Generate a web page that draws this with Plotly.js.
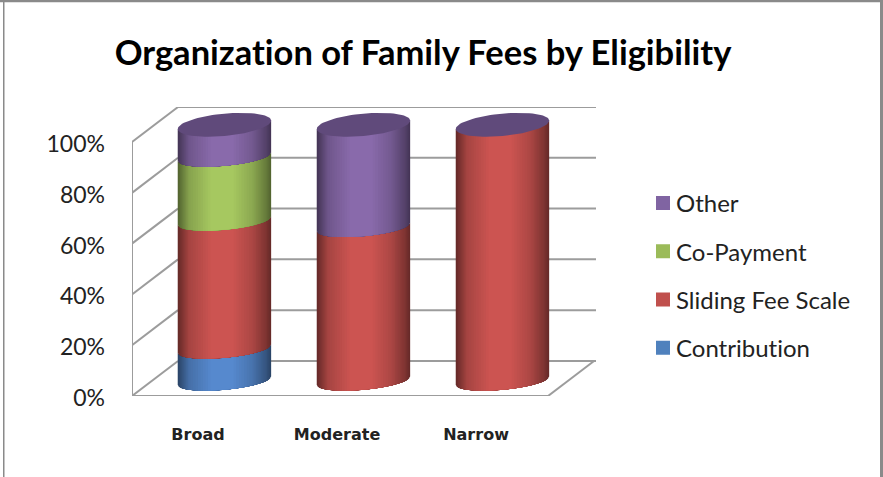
<!DOCTYPE html>
<html>
<head>
<meta charset="utf-8">
<script src="https://cdn.plot.ly/plotly-3.0.1.min.js"></script>
<style>html,body{margin:0;padding:0;background:#fff;overflow:hidden}#chart{width:883px;height:477px}#chart text{font-variant-ligatures:none;font-feature-settings:"liga" 0,"clig" 0,"dlig" 0}</style>
</head>
<body>
<div id="chart"></div>
<script>
// ---- data ----
const categories = ["Broad", "Moderate", "Narrow"];
const contribution = [12.5, 0, 0];
const slidingFeeScale = [50, 60, 100];
const coPayment = [25, 0, 0];
const other = [12.5, 40, 0];
const yTicks = [0, 20, 40, 60, 80, 100];
const yTickLabels = ["0%", "20%", "40%", "60%", "80%", "100%"];
const stackOrder = ["Contribution", "Sliding Fee Scale", "Co-Payment", "Other"];
const legendOrder = ["Other", "Co-Payment", "Sliding Fee Scale", "Contribution"];
const seriesValues = {"Contribution": contribution, "Sliding Fee Scale": slidingFeeScale, "Co-Payment": coPayment, "Other": other};
const swatchColors = {"Contribution": "#4f81bd", "Sliding Fee Scale": "#c0504d", "Co-Payment": "#9bbb59", "Other": "#8064a2"};
const bodyColors = {"Contribution": [86,137,206], "Sliding Fee Scale": [204,84,81], "Co-Payment": [166,200,96], "Other": [137,106,171]};
const capColor = "#604a7b";

// ---- projection of the 3-D box, in axis units ----
const xRange = [-0.475, 2.863], yRange = [0, 113.8];
const depthX = 0.331, depthY = 13.8;
const frontRight = 2.518;
const cylOffset = 0.19, cylRadius = 0.336;
const cylBase = 6.0, cylScale = 1.008;
const sag = 3.55, capSag = 4.4, tilt = 1.65;
const shadeLeft = [[.5,0],[.82,.12],[1,.35]], shadeRight = [[.5,1],[.62,.95],[.85,.8],[1,.6]];

function invert(stops, f){
  for(let i=0;i<stops.length-1;i++){
    const a=stops[i], b=stops[i+1];
    if(f>=a[0] && f<=b[0]) return a[1]+(b[1]-a[1])*(f-a[0])/(b[0]-a[0]);
  }
  return stops[stops.length-1][1];
}
function front(cat, level, u, s){
  const t = Math.PI + Math.acos(1-2*u);
  return [cat+cylOffset+cylRadius*Math.cos(t), cylBase+level*cylScale+s*Math.sin(t)+tilt*Math.cos(t)];
}

const traces = [];
// real stacked data as bars (also provide the legend)
legendOrder.forEach(name=>{
  const vals = seriesValues[name];
  const idx = stackOrder.indexOf(name);
  const bases = categories.map((c,i)=>{
    let s=0; for(let j=0;j<idx;j++) s+=seriesValues[stackOrder[j]][i];
    return cylBase+s*cylScale;
  });
  traces.push({type:"bar",name:name,x:categories.map((c,i)=>i+cylOffset),y:vals.map(v=>v*cylScale),base:bases,width:0.4,
    marker:{color:swatchColors[name],line:{color:swatchColors[name],width:2}},legendgroup:name,hoverinfo:"skip"});
});

// walls and gridlines
const wx=[], wy=[];
function seg(x0,y0,x1,y1){wx.push(x0,x1,null);wy.push(y0,y1,null);}
yTicks.forEach(v=>{
  seg(xRange[0],v,xRange[0]+depthX,v+depthY);
  seg(xRange[0]+depthX,v+depthY,xRange[1],v+depthY);
});
seg(xRange[0],0,xRange[0],100);
seg(xRange[0],0,frontRight,0);
seg(frontRight,0,frontRight+depthX,depthY);
traces.push({type:"scatter",mode:"lines",x:wx,y:wy,line:{color:"#9c9c9c",width:2},showlegend:false,hoverinfo:"skip",cliponaxis:false});

// shaded cylinder bodies: nested bands from dark rim to bright centre
const bands = 24;
categories.forEach((c,i)=>{
  let cum=0;
  stackOrder.forEach(name=>{
    const v=seriesValues[name][i];
    if(v>0){
      for(let k=0;k<=bands;k++){
        const f=.5+.5*k/bands;
        const uL=invert(shadeLeft,f), uR=invert(shadeRight,f);
        const xs=[],ys=[];
        const n=24;
        for(let j=0;j<=n;j++){const p=front(i,cum,uL+(uR-uL)*j/n,sag);xs.push(p[0]);ys.push(p[1]);}
        for(let j=n;j>=0;j--){const p=front(i,cum+v,uL+(uR-uL)*j/n,sag);xs.push(p[0]);ys.push(p[1]);}
        const rgb=bodyColors[name].map(q=>Math.round(q*f));
        traces.push({type:"scatter",mode:"lines",x:xs,y:ys,fill:"toself",fillcolor:`rgb(${rgb})`,line:{width:0,color:`rgb(${rgb})`},showlegend:false,hoverinfo:"skip",cliponaxis:false});
      }
    }
    cum+=v;
  });
  // top cap
  const xs=[],ys=[];
  for(let j=0;j<=72;j++){
    const t=2*Math.PI*j/72;
    xs.push(i+cylOffset+cylRadius*Math.cos(t));
    ys.push(cylBase+cum*cylScale+capSag*Math.sin(t)+tilt*Math.cos(t));
  }
  traces.push({type:"scatter",mode:"lines",x:xs,y:ys,fill:"toself",fillcolor:capColor,line:{width:0,color:capColor},showlegend:false,hoverinfo:"skip",cliponaxis:false});
});

const frame = "#8a8a8a";
const layout = {
  width:883,height:477,
  margin:{l:132,r:287,t:107,b:81,pad:0},
  paper_bgcolor:"#fff",plot_bgcolor:"#fff",
  barmode:"overlay",
  showlegend:true,
  title:{text:"Organization of Family Fees by Eligibility",font:{family:"Lato",size:34.5,weight:700,color:"#000"},x:423/883,xanchor:"center",y:1-53/477,yanchor:"middle"},
  xaxis:{range:xRange,tickmode:"array",tickvals:[0,1,2],ticktext:categories,showgrid:false,zeroline:false,showline:false,ticks:"",ticklabelstandoff:27,
    tickfont:{family:"DejaVu Sans",size:16,weight:700,color:"#222"},fixedrange:true},
  yaxis:{range:yRange,tickmode:"array",tickvals:yTicks,ticktext:yTickLabels,showgrid:false,zeroline:false,showline:false,ticks:"",ticklabelstandoff:26,ticklabelshift:2,
    tickfont:{family:"Lato",size:23,color:"#222"},fixedrange:true},
  legend:{x:(636-132)/464,xanchor:"left",y:1-(181-107)/289,yanchor:"top",traceorder:"grouped",tracegroupgap:14,font:{family:"Lato",size:24,color:"#222"},bgcolor:"rgba(0,0,0,0)",itemclick:false,itemdoubleclick:false},
  shapes:[
    {type:"rect",xref:"paper",yref:"paper",x0:(3-132)/464,x1:(4.5-132)/464,y0:(396-477)/289,y1:(396)/289,fillcolor:frame,line:{width:0},layer:"above"},
    {type:"rect",xref:"paper",yref:"paper",x0:(880-132)/464,x1:(883-132)/464,y0:(396-477)/289,y1:(396)/289,fillcolor:frame,line:{width:0},layer:"above"},
    {type:"rect",xref:"paper",yref:"paper",x0:(0-132)/464,x1:(883-132)/464,y0:(396-2.2)/289,y1:(396)/289,fillcolor:frame,line:{width:0},layer:"above"}
  ]
};
Plotly.newPlot("chart",traces,layout,{displayModeBar:false,staticPlot:true}).then(()=>{
  document.querySelectorAll("#chart .legend .legendsymbols").forEach(g=>g.setAttribute("transform","translate(7,0)"));
});
</script>
</body>
</html>
